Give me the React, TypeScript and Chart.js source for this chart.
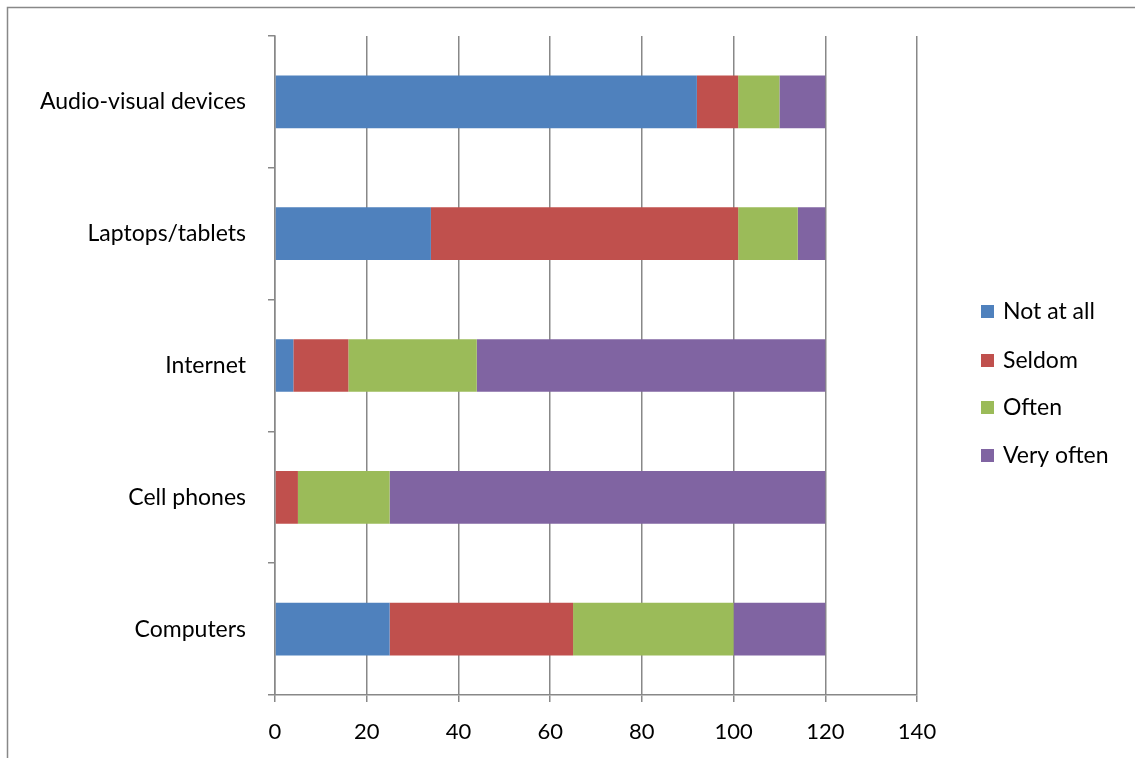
import React, { useEffect, useRef } from "react";
import { Chart, registerables } from "chart.js";

Chart.register(...registerables);

const categories = ["Audio-visual devices", "Laptops/tablets", "Internet", "Cell phones", "Computers"];
const seriesNames = ["Not at all", "Seldom", "Often", "Very often"];
const notAtAll = [92, 34, 4, 0, 25];
const seldom = [9, 67, 12, 5, 40];
const often = [9, 13, 28, 20, 35];
const veryOften = [10, 6, 76, 95, 20];
const colors = ["#4F81BD", "#C0504D", "#9BBB59", "#8064A2"];
const xTicks = [0, 20, 40, 60, 80, 100, 120, 140];

const FONT = "Lato, 'Open Sans', sans-serif";
const GRID = "#888888";

const frameAndLegend = {
  id: "frameAndLegend",
  beforeDraw(chart: any) {
    const ctx = chart.ctx;
    ctx.save();
    ctx.fillStyle = "#ffffff";
    ctx.fillRect(0, 0, chart.width, chart.height);
    ctx.strokeStyle = GRID;
    ctx.lineWidth = 1.5;
    ctx.strokeRect(7.5, 7.5, chart.width + 20, chart.height + 20);
    ctx.restore();
  },
  afterDraw(chart: any) {
    const ctx = chart.ctx;
    ctx.save();
    ctx.font = `23px ${FONT}`;
    ctx.textBaseline = "middle";
    ctx.textAlign = "left";
    const rowYs = [312, 361, 408, 456];
    chart.data.datasets.forEach((ds: any, i: number) => {
      const y = rowYs[i];
      ctx.fillStyle = ds.backgroundColor;
      ctx.fillRect(981, y - 7, 13, 13);
      ctx.fillStyle = "#000000";
      ctx.fillText(ds.label, 1003, y);
    });
    ctx.restore();
  },
};

export default function App() {
  const ref = useRef<HTMLCanvasElement | null>(null);
  useEffect(() => {
    if (!ref.current) return;
    const seriesValues = [notAtAll, seldom, often, veryOften];
    const chart = new Chart(ref.current, {
      type: "bar",
      data: {
        labels: categories,
        datasets: seriesNames.map((name, i) => ({
          label: name,
          data: seriesValues[i],
          backgroundColor: colors[i],
          borderWidth: 0,
          barPercentage: 0.4,
          categoryPercentage: 1,
        })),
      },
      options: {
        indexAxis: "y",
        responsive: false,
        animation: false,
        layout: { padding: { left: 0, top: 36, right: 218, bottom: 0 } },
        plugins: {
          legend: { display: false },
          tooltip: { enabled: false },
        },
        scales: {
          x: {
            stacked: true,
            min: 0,
            max: 140,
            afterBuildTicks: (scale: any) => {
              scale.ticks = xTicks.map((v) => ({ value: v }));
            },
            afterFit: (scale: any) => {
              scale.height = 63;
            },
            grid: {
              color: GRID,
              lineWidth: 1.5,
              tickLength: 7,
              drawTicks: true,
            },
            border: { color: GRID, width: 1.5 },
            ticks: {
              color: "#000000",
              padding: 17,
              font: { family: FONT, size: 22 },
            },
          },
          y: {
            stacked: true,
            afterFit: (scale: any) => {
              scale.width = 275;
            },
            grid: {
              offset: true,
              drawOnChartArea: false,
              color: GRID,
              lineWidth: 1.5,
              tickLength: 7,
            },
            border: { color: GRID, width: 1.5 },
            ticks: {
              color: "#000000",
              padding: 22,
              font: { family: FONT, size: 23 },
            },
          },
        },
      },
      plugins: [frameAndLegend],
    });
    return () => chart.destroy();
  }, []);
  return (
    <div style={{ position: "fixed", left: 0, top: 0, width: 1135, height: 758, background: "#fff" }}>
      <canvas ref={ref} width={1135} height={758} />
    </div>
  );
}
